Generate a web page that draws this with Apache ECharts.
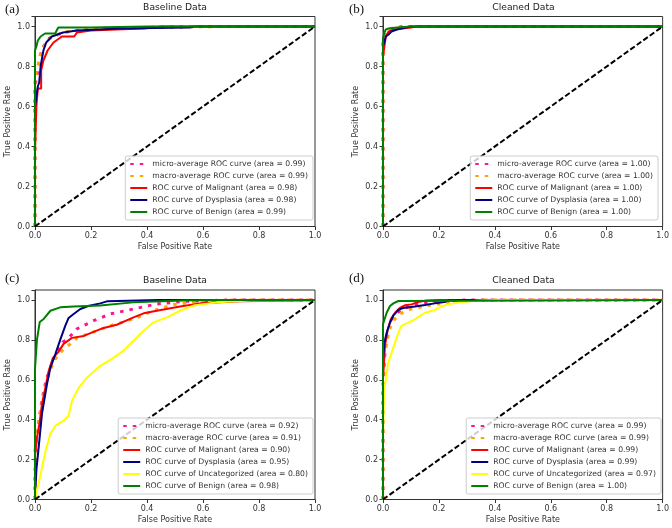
<!DOCTYPE html>
<html>
<head>
<meta charset="utf-8">
<script src="https://cdn.jsdelivr.net/npm/echarts@6/dist/echarts.min.js"></script>
</head>
<body style="margin:0">
<div id="main" style="width:672px;height:528px;"></div>
<script>
// (a) baseline data, 3 classes
var aMicro = [[0,0],[0,0.7],[0.01,0.78],[0.02,0.86],[0.03,0.9],[0.05,0.94],[0.1,0.97],[0.2,0.99],[0.4,0.995],[0.6,1],[1,1]];
var aMacro = [[0,0],[0,0.75],[0.01,0.8],[0.02,0.87],[0.04,0.92],[0.06,0.95],[0.12,0.975],[0.2,0.99],[0.5,0.998],[0.7,1],[1,1]];
var aMalignant = [[0,0],[0,0.37],[0.005,0.6],[0.01,0.69],[0.022,0.69],[0.022,0.78],[0.03,0.83],[0.045,0.88],[0.066,0.92],[0.096,0.95],[0.14,0.95],[0.15,0.97],[0.2,0.98],[0.29,0.985],[0.39,0.99],[0.45,1],[1,1]];
var aDysplasia = [[0,0],[0,0.6],[0.01,0.7],[0.015,0.72],[0.02,0.8],[0.03,0.88],[0.04,0.92],[0.06,0.95],[0.1,0.97],[0.15,0.98],[0.3,0.99],[0.55,0.995],[0.57,1],[1,1]];
var aBenign = [[0,0],[0,0.88],[0.005,0.9],[0.01,0.93],[0.02,0.95],[0.036,0.965],[0.072,0.965],[0.083,0.995],[0.2,0.995],[0.4,1],[1,1]];

// (b) cleaned data, 3 classes
var bMicro = [[0,0],[0,0.92],[0.01,0.97],[0.03,0.99],[0.07,1],[1,1]];
var bMacro = [[0,0],[0,0.93],[0.01,0.975],[0.03,0.99],[0.1,1],[1,1]];
var bMalignant = [[0,0],[0,0.85],[0.005,0.9],[0.01,0.95],[0.02,0.975],[0.04,0.985],[0.1,0.995],[0.12,1],[1,1]];
var bDysplasia = [[0,0],[0,0.9],[0.01,0.95],[0.02,0.96],[0.03,0.975],[0.05,0.985],[0.08,0.995],[0.1,1],[1,1]];
var bBenign = [[0,0],[0,0.94],[0.005,0.97],[0.01,0.985],[0.02,0.99],[0.05,0.995],[0.1,1],[1,1]];

// (c) baseline data, 4 classes
var cMicro = [[0,0],[0,0.1],[0.005,0.3],[0.015,0.4],[0.025,0.5],[0.04,0.6],[0.06,0.68],[0.08,0.74],[0.1,0.79],[0.114,0.8],[0.15,0.855],[0.209,0.896],[0.269,0.93],[0.352,0.955],[0.435,0.98],[0.53,0.993],[0.7,1],[1,1]];
var cMacro = [[0,0],[0,0.25],[0.01,0.35],[0.02,0.45],[0.035,0.55],[0.05,0.63],[0.07,0.7],[0.1,0.75],[0.114,0.765],[0.15,0.81],[0.221,0.846],[0.269,0.871],[0.352,0.905],[0.423,0.946],[0.495,0.977],[0.59,0.993],[0.71,1],[1,1]];
var cMalignant = [[0,0],[0,0.22],[0.007,0.31],[0.017,0.39],[0.025,0.48],[0.037,0.56],[0.049,0.645],[0.064,0.71],[0.084,0.74],[0.102,0.78],[0.132,0.81],[0.174,0.82],[0.209,0.84],[0.245,0.86],[0.292,0.876],[0.352,0.913],[0.388,0.933],[0.435,0.946],[0.518,0.967],[0.59,0.983],[0.732,0.993],[0.946,0.997],[1,1]];
var cDysplasia = [[0,0],[0.005,0.15],[0.013,0.26],[0.025,0.43],[0.043,0.58],[0.055,0.66],[0.073,0.73],[0.09,0.8],[0.108,0.87],[0.12,0.91],[0.138,0.93],[0.162,0.955],[0.19,0.97],[0.233,0.983],[0.257,0.993],[0.44,1],[1,1]];
var cUncat = [[0,0],[0.005,0.04],[0.013,0.08],[0.025,0.16],[0.037,0.24],[0.055,0.33],[0.073,0.37],[0.102,0.395],[0.12,0.42],[0.132,0.495],[0.156,0.56],[0.185,0.61],[0.233,0.67],[0.28,0.71],[0.316,0.746],[0.352,0.796],[0.388,0.846],[0.423,0.888],[0.471,0.913],[0.518,0.946],[0.566,0.972],[0.649,0.988],[0.768,0.997],[1,1]];
var cBenign = [[0,0],[0,0.654],[0.007,0.8],[0.017,0.89],[0.031,0.905],[0.055,0.946],[0.09,0.963],[0.138,0.967],[0.233,0.972],[0.35,0.988],[0.53,0.997],[0.65,1],[1,1]];

// (d) cleaned data, 4 classes
var dMicro = [[0,0],[0,0.55],[0.005,0.7],[0.01,0.78],[0.02,0.85],[0.03,0.9],[0.05,0.935],[0.08,0.96],[0.12,0.98],[0.2,0.993],[0.3,1],[1,1]];
var dMacro = [[0,0],[0,0.6],[0.005,0.72],[0.015,0.8],[0.025,0.86],[0.04,0.9],[0.06,0.93],[0.1,0.955],[0.15,0.97],[0.25,0.99],[0.35,1],[1,1]];
var dMalignant = [[0,0],[0,0.6],[0.007,0.77],[0.017,0.853],[0.028,0.903],[0.043,0.936],[0.06,0.96],[0.078,0.973],[0.102,0.978],[0.126,0.99],[0.155,0.997],[0.2,1],[1,1]];
var dDysplasia = [[0,0],[0,0.7],[0.005,0.786],[0.013,0.836],[0.025,0.886],[0.037,0.923],[0.055,0.95],[0.072,0.96],[0.114,0.967],[0.15,0.975],[0.185,0.983],[0.22,0.99],[0.232,0.997],[0.3,1],[1,1]];
var dUncat = [[0,0],[0,0.3],[0.004,0.55],[0.01,0.6],[0.019,0.686],[0.031,0.736],[0.043,0.786],[0.055,0.836],[0.066,0.87],[0.09,0.886],[0.114,0.903],[0.132,0.92],[0.15,0.936],[0.185,0.95],[0.209,0.967],[0.232,0.978],[0.28,0.99],[0.34,0.997],[0.4,1],[1,1]];
var dBenign = [[0,0],[0,0.878],[0.013,0.936],[0.025,0.97],[0.037,0.983],[0.055,0.995],[0.06,1],[1,1]];

var diag = [[0,0],[1,1]];

var aNames = ['micro-average ROC curve (area = 0.99)','macro-average ROC curve (area = 0.99)','ROC curve of Malignant (area = 0.98)','ROC curve of Dysplasia (area = 0.98)','ROC curve of Benign (area = 0.99)'];
var bNames = ['micro-average ROC curve (area = 1.00)','macro-average ROC curve (area = 1.00)','ROC curve of Malignant (area = 1.00)','ROC curve of Dysplasia (area = 1.00)','ROC curve of Benign (area = 1.00)'];
var cNames = ['micro-average ROC curve (area = 0.92)','macro-average ROC curve (area = 0.91)','ROC curve of Malignant (area = 0.90)','ROC curve of Dysplasia (area = 0.95)','ROC curve of Uncategorized (area = 0.80)','ROC curve of Benign (area = 0.98)'];
var dNames = ['micro-average ROC curve (area = 0.99)','macro-average ROC curve (area = 0.99)','ROC curve of Malignant (area = 0.99)','ROC curve of Dysplasia (area = 0.99)','ROC curve of Uncategorized (area = 0.97)','ROC curve of Benign (area = 1.00)'];

var styles = {
  micro: {color:'#ff1493', width:3, type:[3.5,6]},
  macro: {color:'#ffa500', width:3, type:[3.5,6]},
  mal:   {color:'#ff0000', width:2, type:'solid'},
  dys:   {color:'#000080', width:2, type:'solid'},
  unc:   {color:'#ffff00', width:2, type:'solid'},
  ben:   {color:'#008000', width:2, type:'solid'}
};

var panels = [
  {tag:'a', title:'Baseline Data', names:aNames, keys:['micro','macro','mal','dys','ben'], data:[aMicro,aMacro,aMalignant,aDysplasia,aBenign],
   grid:{left:35, top:16.5, width:280, height:210}, legend:{right:359, bottom:308}, tagPos:[5,3]},
  {tag:'b', title:'Cleaned Data', names:bNames, keys:['micro','macro','mal','dys','ben'], data:[bMicro,bMacro,bMalignant,bDysplasia,bBenign],
   grid:{left:383, top:16.5, width:281, height:210}, legend:{right:14, bottom:308}, tagPos:[349,3]},
  {tag:'c', title:'Baseline Data', names:cNames, keys:['micro','macro','mal','dys','unc','ben'], data:[cMicro,cMacro,cMalignant,cDysplasia,cUncat,cBenign],
   grid:{left:35, top:290, width:280, height:209.5}, legend:{right:359, bottom:34}, tagPos:[5,272]},
  {tag:'d', title:'Cleaned Data', names:dNames, keys:['micro','macro','mal','dys','unc','ben'], data:[dMicro,dMacro,dMalignant,dDysplasia,dUncat,dBenign],
   grid:{left:383, top:290, width:281, height:209.5}, legend:{right:11, bottom:34}, tagPos:[349,272]}
];

var font = 'DejaVu Sans';
var grids = [], xAxes = [], yAxes = [], series = [], legends = [], titles = [];

panels.forEach(function (p, i) {
  grids.push(Object.assign({show:true, borderColor:'#333', borderWidth:1, containLabel:false}, p.grid));
  xAxes.push({
    type:'value', gridIndex:i, min:0, max:1, interval:0.2,
    name:'False Positive Rate', nameLocation:'middle', nameGap:16,
    nameTextStyle:{fontFamily:font, fontSize:8, color:'#333'},
    axisLine:{show:true, lineStyle:{color:'#333', width:1}},
    axisTick:{show:true, length:3.5, lineStyle:{color:'#333'}},
    axisLabel:{fontFamily:font, fontSize:8, color:'#333', margin:5, formatter:function (v) { return v.toFixed(1); }},
    splitLine:{show:false}
  });
  yAxes.push({
    type:'value', gridIndex:i, min:0, max:1.05, interval:0.2,
    name:'True Positive Rate', nameLocation:'middle', nameGap:23,
    nameTextStyle:{fontFamily:font, fontSize:8, color:'#333'},
    axisLine:{show:true, lineStyle:{color:'#333', width:1}},
    axisTick:{show:true, length:3.5, lineStyle:{color:'#333'}},
    axisLabel:{fontFamily:font, fontSize:8, color:'#333', margin:5, formatter:function (v) { return v > 1.001 ? '' : v.toFixed(1); }},
    splitLine:{show:false}
  });
  var legendNames = [];
  p.keys.forEach(function (k, j) {
    var nm = p.tag + ': ' + p.names[j];
    legendNames.push(nm);
    var st = styles[k];
    series.push({
      name:nm, type:'line', xAxisIndex:i, yAxisIndex:i, data:p.data[j],
      symbol:'none', showSymbol:false, animation:false, silent:true,
      lineStyle:{color:st.color, width:st.width, type:st.type},
      itemStyle:{color:st.color, opacity:0}
    });
  });
  series.push({
    type:'line', xAxisIndex:i, yAxisIndex:i, data:diag, symbol:'none', animation:false, silent:true,
    lineStyle:{color:'#000', width:2, type:[5.5,2.5]}
  });
  legends.push(Object.assign({
    orient:'vertical', data:legendNames, selectedMode:false,
    itemWidth:17, itemHeight:10, itemGap:2, padding:[3,5,3,4],
    backgroundColor:'rgba(255,255,255,0.8)', borderColor:'#cccccc', borderWidth:1, borderRadius:2,
    itemStyle:{opacity:0},
    textStyle:{fontFamily:font, fontSize:7.7, color:'#333', lineHeight:10},
    formatter:function (n) { return n.slice(3); }
  }, p.legend));
  titles.push({
    text:p.title, left:p.grid.left + p.grid.width / 2, top:p.grid.top - 13.5, textAlign:'center', padding:0,
    textStyle:{fontFamily:font, fontSize:9.2, fontWeight:'normal', color:'#222'}
  });
  titles.push({
    text:'(' + p.tag + ')', left:p.tagPos[0], top:p.tagPos[1], padding:0,
    textStyle:{fontFamily:'Liberation Serif', fontSize:13, fontWeight:'normal', color:'#111'}
  });
});

var myChart = echarts.init(document.getElementById('main'));
myChart.setOption({
  animation:false,
  backgroundColor:'#fff',
  title:titles,
  grid:grids,
  xAxis:xAxes,
  yAxis:yAxes,
  legend:legends,
  series:series
});
</script>
</body>
</html>
